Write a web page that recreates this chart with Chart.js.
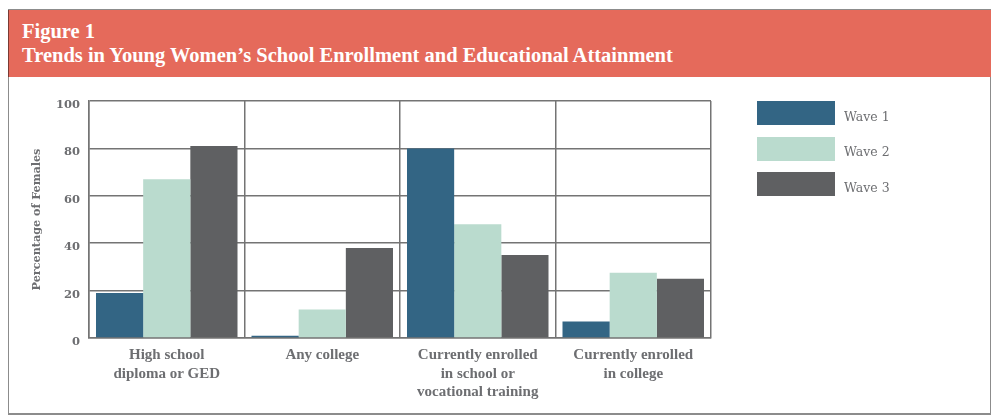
<!DOCTYPE html>
<html lang="en">
<head>
    <meta charset="UTF-8">
    <title>Figure 1</title>
    <script src="https://cdn.jsdelivr.net/npm/chart.js"></script>
    <style>
        html, body {
            margin: 0;
            padding: 0;
            width: 993px;
            height: 418px;
            background: #fff;
            overflow: hidden;
        }

        .frame {
            position: absolute;
            left: 8px;
            top: 9px;
            width: 981px;
            height: 403px;
            border: 1px solid #8c8c8c;
            border-bottom: 2px solid #8c8c8c;
        }

        .header {
            position: absolute;
            left: 8px;
            top: 10px;
            width: 982px;
            height: 67px;
            background-color: #e56a5b;
            border-left: 1px solid #7a3a33;
            color: #fff;
            font-family: "Liberation Serif", serif;
            font-weight: bold;
            font-size: 20.5px;
            line-height: 23px;
        }

        .header div {
            position: absolute;
            left: 13px;
        }

        #chart-wrap {
            position: absolute;
            left: 0;
            top: 0;
            width: 993px;
            height: 418px;
        }

        .legend {
            position: absolute;
            left: 757px;
            top: 101px;
            font-family: "DejaVu Serif", serif;
            font-size: 12.5px;
            color: #6d6e71;
        }

        .legend-item {
            display: flex;
            align-items: center;
            height: 24px;
            margin-bottom: 11.5px;
        }

        .legend-item span.txt {
            position: relative;
            top: 3px;
        }

        .legend-color {
            width: 78px;
            height: 24px;
            margin-right: 9px;
        }
    </style>
</head>
<body>
    <div class="frame"></div>
    <div class="header">
        <div style="top: 10px;">Figure 1</div>
        <div style="top: 34px;">Trends in Young Women’s School Enrollment and Educational Attainment</div>
    </div>
    <div id="chart-wrap">
        <canvas id="enrollmentChart"></canvas>
    </div>
    <div class="legend" id="legend"></div>

    <script>
        // categories and series (percent of females)
        const categories = [
            ['High school', 'diploma or GED'],
            ['Any college'],
            ['Currently enrolled', 'in school or', 'vocational training'],
            ['Currently enrolled', 'in college']
        ];
        const seriesNames = ['Wave 1', 'Wave 2', 'Wave 3'];
        const wave1 = [19, 1, 80, 7];
        const wave2 = [67, 12, 48, 27.5];
        const wave3 = [81, 38, 35, 25];
        const yTicks = [0, 20, 40, 60, 80, 100];

        const colors = ['#336584', '#badbce', '#5f6062'];
        const gridColor = '#747474';
        const textColor = '#6d6e71';

        const ctx = document.getElementById('enrollmentChart').getContext('2d');
        const chart = new Chart(ctx, {
            type: 'bar',
            data: {
                labels: categories,
                datasets: [wave1, wave2, wave3].map((vals, i) => ({
                    label: seriesNames[i],
                    data: vals,
                    backgroundColor: colors[i],
                    borderWidth: 0,
                    barPercentage: 1,
                    categoryPercentage: 0.91
                }))
            },
            options: {
                responsive: true,
                maintainAspectRatio: false,
                animation: false,
                layout: {
                    padding: { left: 0, right: 282, top: 101, bottom: 0 }
                },
                plugins: {
                    legend: { display: false },
                    tooltip: { enabled: false }
                },
                scales: {
                    x: {
                        grid: {
                            color: gridColor,
                            lineWidth: 1.5,
                            drawTicks: false
                        },
                        border: { display: true, color: gridColor, width: 1.5 },
                        ticks: {
                            color: textColor,
                            padding: 8,
                            maxRotation: 0,
                            font: { family: 'Liberation Serif', weight: 'bold', size: 15, lineHeight: 1.23 }
                        },
                        afterFit: (scale) => { scale.height = 80; }
                    },
                    y: {
                        min: 0,
                        max: 100,
                        afterBuildTicks: (scale) => {
                            scale.ticks = yTicks.map(v => ({ value: v }));
                        },
                        grid: {
                            color: gridColor,
                            lineWidth: 1.5,
                            drawTicks: false
                        },
                        border: { display: true, color: gridColor, width: 1.5 },
                        ticks: {
                            color: textColor,
                            padding: 9,
                            labelOffset: 4,
                            font: { family: 'DejaVu Serif', weight: 'bold', size: 11.5 }
                        },
                        title: {
                            display: true,
                            text: 'Percentage of Females',
                            color: textColor,
                            padding: { top: 30, bottom: 0 },
                            font: { family: 'DejaVu Serif', weight: 'bold', size: 11.2 }
                        },
                        afterFit: (scale) => { scale.width = 89; }
                    }
                }
            }
        });

        // legend built from the chart's datasets
        const legendEl = document.getElementById('legend');
        chart.data.datasets.forEach(ds => {
            const item = document.createElement('div');
            item.className = 'legend-item';
            item.innerHTML = '<span class="legend-color" style="background-color:' + ds.backgroundColor + ';"></span><span class="txt">' + ds.label + '</span>';
            legendEl.appendChild(item);
        });
    </script>
</body>
</html>
